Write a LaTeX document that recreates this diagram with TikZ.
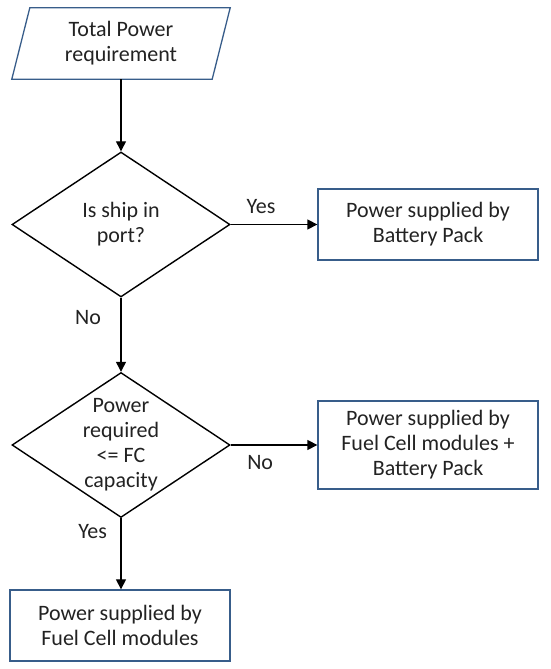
\documentclass[tikz,border=0pt]{standalone}
\usepackage{fontspec}
\setmainfont{Carlito}
\usetikzlibrary{arrows.meta,shapes.geometric}

\definecolor{outline}{HTML}{385D8A}
\definecolor{ink}{HTML}{222222}

\begin{document}
\begin{tikzpicture}[x=1pt, y=1pt, font=\fontsize{22}{25}\selectfont, text=ink,
    >={Triangle[length=10pt, width=10pt]},
    process/.style={draw=outline, line width=1.3pt, minimum width=220pt, align=center, inner sep=0pt},
    decision/.style={diamond, draw, line width=1.4pt, minimum width=218pt, minimum height=145pt, inner sep=0pt, align=center},
    flow/.style={->, line width=1.3pt}]

  \def\colx{121}
  \def\boxx{428}
  \def\slant{9}

  \useasboundingbox (0,0) rectangle (550,669);

  % input parallelogram
  \node (input) [minimum width=200pt, minimum height=71pt, inner sep=0pt, align=center] at (\colx, 625.5) {Total Power\\requirement};
  \draw[outline, line width=1.3pt] ([xshift=\slant pt]input.north west) -- ([xshift=\slant pt]input.north east)
    -- ([xshift=-\slant pt]input.south east) -- ([xshift=-\slant pt]input.south west) -- cycle;

  % decisions and outcomes
  \node[decision] (inport) at (\colx, 444.5) {Is ship in\\port?};
  \node[process, minimum height=71pt] (battery) at (\boxx, 444.5) {Power supplied by\\Battery Pack};

  \node[decision, inner sep=-9pt] (fccap) at (\colx, 224) {Power\\required\\<= FC\\capacity};
  \node[process, minimum height=88pt] (hybrid) at (\boxx, 224) {Power supplied by\\Fuel Cell modules +\\Battery Pack};

  \node[process, minimum height=71pt] (fconly) at (120, 43.5) {Power supplied by\\Fuel Cell modules};

  % connectors
  \draw[flow] (input.south) -- (inport.north);
  \draw[flow] (inport.east) -- node[pos=0.35, above=7pt] {Yes} (battery.west);
  \draw[flow] (inport.south) -- node[pos=0.27, left=16pt] {No} (fccap.north);
  \draw[flow] (fccap.east) -- node[pos=0.34, below=6pt] {No} (hybrid.west);
  \draw[flow] (fccap.south) -- node[pos=0.19, left=10pt] {Yes} (fccap.south |- fconly.north);

\end{tikzpicture}
\end{document}
